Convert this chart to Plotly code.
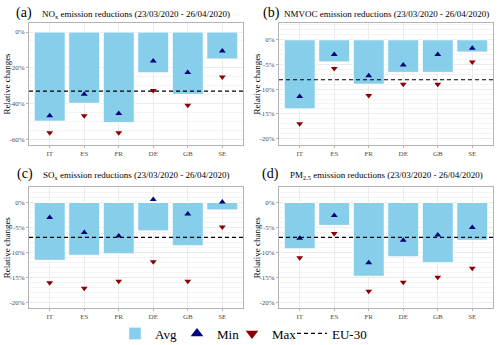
import plotly.graph_objects as go

paises = ['IT', 'ES', 'FR', 'DE', 'GB', 'SE']

# NOx
nox_avg = [-49.8, -39.8, -50.6, -22.8, -34.8, -15.1]
nox_min = [-46.8, -34.8, -45.5, -16.2, -22.6, -10.6]
nox_max = [-56.3, -46.8, -56.3, -32.6, -40.9, -25.1]
nox_eu = -33.0

# NMVOC
nmvoc_avg = [-14.0, -4.5, -9.0, -6.6, -6.6, -2.5]
nmvoc_min = [-11.5, -3.0, -7.3, -5.1, -3.0, -1.7]
nmvoc_max = [-17.0, -5.8, -11.3, -9.0, -9.0, -4.5]
nmvoc_eu = -8.1

# SOx
sox_avg = [-11.6, -10.6, -10.3, -5.7, -8.7, -1.5]
sox_min = [-3.0, -6.0, -6.7, 0.6, -2.3, 0.1]
sox_max = [-16.1, -17.2, -15.8, -11.9, -15.8, -4.9]
sox_eu = -7.0

# PM2.5
pm_avg = [-9.3, -4.6, -14.8, -10.9, -12.1, -7.6]
pm_min = [-7.2, -2.6, -12.1, -7.6, -6.5, -5.0]
pm_max = [-11.1, -6.2, -17.8, -16.0, -15.0, -13.2]
pm_eu = -7.0

titulos = ['NO<sub>x</sub> emission reductions (23/03/2020 - 26/04/2020)',
           'NMVOC emission reductions (23/03/2020 - 26/04/2020)',
           'SO<sub>x</sub> emission reductions (23/03/2020 - 26/04/2020)',
           'PM<sub>2.5</sub> emission reductions (23/03/2020 - 26/04/2020)']
letras = ['(a)', '(b)', '(c)', '(d)']

ticks_a = [0, -20, -40, -60]
ticks_b = [0, -5, -10, -15, -20]

paineis = [
    (nox_avg, nox_min, nox_max, nox_eu, [-62.8, 5.2], ticks_a),
    (nmvoc_avg, nmvoc_min, nmvoc_max, nmvoc_eu, [-21.2, 3.45], ticks_b),
    (sox_avg, sox_min, sox_max, sox_eu, [-21.1, 3.1], ticks_b),
    (pm_avg, pm_min, pm_max, pm_eu, [-21.1, 3.1], ticks_b),
]

W, H = 500, 345
xdom = [[29 / W, 243 / W], [279 / W, 493 / W]]
ydom = [[1 - 144.5 / H, 1 - 22.7 / H], [1 - 307.7 / H, 1 - 187 / H]]
# posicoes (px) dos titulos e das letras de cada painel
titulo_y = [14, 14, 175, 175]
letra_x = [24, 271, 24.5, 270]
letra_y = [12.5, 12.5, 174, 174]

serif = 'Liberation Serif'
cinza = '#4D4D4D'
fig = go.Figure()


def legenda(xc):
    # uma legenda por item, posicionada pelo centro do simbolo (px)
    return dict(orientation='h', x=(xc - 20) / W, xanchor='left', y=1 - 333.5 / H,
                yanchor='middle', font=dict(family=serif, size=13), itemwidth=30,
                bgcolor='rgba(0,0,0,0)')


layout = dict(
    width=W, height=H,
    margin=dict(l=0, r=0, t=0, b=0, autoexpand=False),
    plot_bgcolor='white', paper_bgcolor='white',
    font=dict(family=serif, color='black'),
    barmode='overlay',
    showlegend=True,
    legend=legenda(135), legend2=legenda(197), legend3=legenda(252), legend4=legenda(312),
)
anots = []
shapes = []

# entradas da legenda (simbolos maiores que nos paineis)
fig.add_trace(go.Bar(x=[None], y=[None], name='Avg', legend='legend',
                     marker=dict(color='#87CEEB')))
fig.add_trace(go.Scatter(x=[None], y=[None], mode='markers', name='Min', legend='legend2',
                         marker=dict(symbol='triangle-up', color='#000080', size=11)))
fig.add_trace(go.Scatter(x=[None], y=[None], mode='markers', name='Max', legend='legend3',
                         marker=dict(symbol='triangle-down', color='#8B0000', size=11)))
fig.add_trace(go.Scatter(x=[None], y=[None], mode='lines', name='EU-30', legend='legend4',
                         line=dict(color='black', width=1.2, dash='4px,3px')))

for i, (avg, mn, mx, eu, yr, tk) in enumerate(paineis):
    n = i + 1
    xa = 'x' if n == 1 else 'x%d' % n
    ya = 'y' if n == 1 else 'y%d' % n
    col = i % 2
    row = i // 2
    fig.add_trace(go.Bar(x=paises, y=avg, xaxis=xa, yaxis=ya, name='Avg', width=0.9,
                         marker=dict(color='#87CEEB', line=dict(color='white', width=1)),
                         showlegend=False))
    fig.add_trace(go.Scatter(x=paises, y=mn, xaxis=xa, yaxis=ya, mode='markers', name='Min',
                             marker=dict(symbol='triangle-up', color='#000080', size=6),
                             showlegend=False))
    fig.add_trace(go.Scatter(x=paises, y=mx, xaxis=xa, yaxis=ya, mode='markers', name='Max',
                             marker=dict(symbol='triangle-down', color='#8B0000', size=6),
                             showlegend=False))
    shapes.append(dict(type='line', xref=xa + ' domain', yref=ya, x0=0, x1=1, y0=eu, y1=eu,
                       line=dict(color='black', width=1.1, dash='4px,3px')))

    ax = dict(domain=xdom[col], anchor=ya, type='category', categoryarray=paises,
              range=[-0.6, 5.6], showgrid=True,
              gridcolor='#EBEBEB', gridwidth=0.5, showline=True, mirror=True,
              linecolor='#B3B3B3', linewidth=1, ticks='outside', ticklen=2,
              tickcolor='#B3B3B3', tickfont=dict(family=serif, size=7, color=cinza),
              zeroline=False)
    ay = dict(domain=ydom[row], anchor=xa, range=yr, showgrid=True, gridcolor='#EBEBEB',
              gridwidth=0.5, showline=True, mirror=True, linecolor='#B3B3B3', linewidth=1,
              tickvals=tk, ticktext=['%d%%' % v if v == 0 else '-%d%%' % abs(v) for v in tk],
              ticks='outside', ticklen=2, tickcolor='#B3B3B3',
              tickfont=dict(family=serif, size=7, color=cinza), zeroline=False,
              minor=dict(showgrid=True, gridcolor='#F4F4F4', gridwidth=0.5))
    layout['xaxis' if n == 1 else 'xaxis%d' % n] = ax
    layout['yaxis' if n == 1 else 'yaxis%d' % n] = ay

    anots.append(dict(text=titulos[i], xref='paper', yref='paper',
                      x=(xdom[col][0] + xdom[col][1]) / 2, y=1 - titulo_y[i] / H,
                      xanchor='center', yanchor='middle', showarrow=False,
                      font=dict(family=serif, size=9)))
    anots.append(dict(text=letras[i], xref='paper', yref='paper',
                      x=letra_x[i] / W, y=1 - letra_y[i] / H,
                      xanchor='center', yanchor='middle', showarrow=False,
                      font=dict(family=serif, size=14)))
    anots.append(dict(text='Relative changes', xref='paper', yref='paper',
                      x=xdom[col][0] - 22 / W, y=(ydom[row][0] + ydom[row][1]) / 2,
                      xanchor='center', yanchor='middle', showarrow=False, textangle=-90,
                      font=dict(family=serif, size=9)))

layout['annotations'] = anots
layout['shapes'] = shapes
fig.update_layout(**layout)
# tira a margem padrao do body para a figura ocupar a janela toda
fig.write_html('out.html', config={'displayModeBar': False},
               post_script="document.body.style.margin='0';")
